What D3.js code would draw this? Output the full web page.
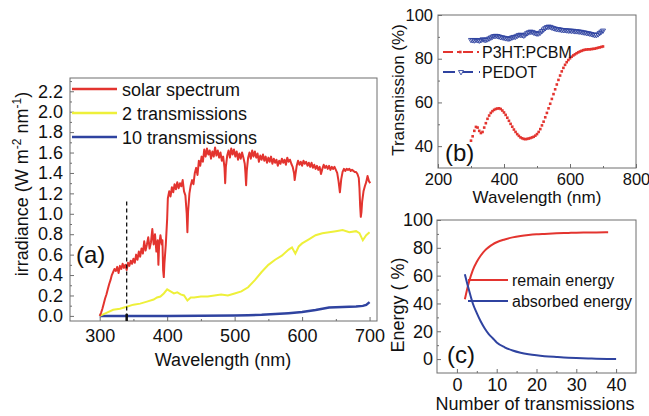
<!doctype html>
<html>
<head>
<meta charset="UTF-8">
<title>Solar spectrum transmissions</title>
<script src="https://d3js.org/d3.v7.min.js"></script>
<style>
  body { margin: 0; background: #fff; }
  text { font-family: "Liberation Sans", Arial, sans-serif; fill: #111; }
</style>
</head>
<body>
<script>
// ---- panel (a) data: irradiance vs wavelength ----
var solar = [[300,0.00],[302,0.03],[304,0.07],[306,0.12],[308,0.17],[310,0.21],[312,0.26],[314,0.31],[316,0.35],
  [318,0.40],[320,0.43],[322,0.46],[324,0.44],[326,0.48],[328,0.42],[330,0.49],[332,0.46],[334,0.51],[336,0.47],
  [338,0.50],[340,0.45],[342,0.52],[344,0.49],[346,0.54],[348,0.51],[350,0.56],[352,0.52],[354,0.60],[356,0.55],
  [358,0.63],[360,0.58],[362,0.66],[364,0.61],[366,0.73],[368,0.64],[370,0.70],[372,0.77],[374,0.66],[376,0.72],
  [378,0.85],[380,0.70],[382,0.80],[384,0.63],[386,0.74],[387,0.50],[388,0.68],[390,0.79],[392,0.70],[393,0.74],
  [394,0.45],[395,0.38],[396,0.52],[398,0.70],[400,0.95],[401,1.15],[403,1.22],[405,1.17],[407,1.26],[409,1.21],
  [411,1.29],[413,1.24],[415,1.31],[417,1.25],[419,1.30],[421,1.27],[423,1.33],[425,1.22],[427,1.18],[429,1.00],
  [430,0.82],[431,1.02],[433,1.20],[435,1.28],[437,1.33],[439,1.29],[441,1.40],[443,1.45],[445,1.38],[447,1.52],
  [449,1.47],[451,1.56],[453,1.51],[455,1.63],[457,1.56],[459,1.64],[461,1.58],[463,1.62],[465,1.54],[467,1.61],
  [469,1.56],[471,1.65],[473,1.57],[475,1.62],[477,1.55],[479,1.60],[481,1.52],[483,1.56],[485,1.45],[486,1.30],
  [487,1.46],[489,1.57],[491,1.62],[493,1.55],[495,1.64],[497,1.58],[499,1.63],[501,1.56],[503,1.61],[505,1.53],
  [507,1.59],[509,1.54],[511,1.60],[513,1.55],[515,1.49],[516,1.40],[517,1.28],[518,1.42],[520,1.55],[522,1.60],
  [524,1.54],[526,1.62],[528,1.56],[530,1.61],[532,1.55],[534,1.59],[536,1.51],[538,1.57],[540,1.53],[542,1.58],
  [544,1.52],[546,1.56],[548,1.50],[550,1.55],[552,1.51],[554,1.56],[556,1.49],[558,1.54],[560,1.50],[562,1.53],
  [564,1.47],[566,1.52],[568,1.49],[570,1.54],[572,1.50],[574,1.53],[576,1.48],[578,1.55],[580,1.51],[582,1.53],
  [584,1.49],[586,1.46],[588,1.40],[589,1.33],[590,1.38],[592,1.47],[594,1.52],[596,1.48],[598,1.51],[600,1.47],
  [602,1.52],[604,1.49],[606,1.51],[608,1.47],[610,1.50],[612,1.46],[614,1.50],[616,1.45],[618,1.48],[620,1.44],
  [622,1.47],[624,1.43],[626,1.46],[628,1.39],[630,1.44],[632,1.48],[634,1.45],[636,1.47],[638,1.44],[640,1.47],
  [642,1.43],[644,1.46],[646,1.44],[648,1.46],[650,1.43],[652,1.40],[654,1.32],[656,1.21],[658,1.34],[660,1.41],
  [662,1.44],[664,1.42],[666,1.44],[668,1.43],[670,1.44],[672,1.42],[674,1.43],[676,1.42],[678,1.41],[680,1.41],
  [682,1.39],[684,1.35],[685,1.25],[686,1.08],[687,0.97],[688,1.02],[689,1.12],[691,1.22],[693,1.27],[695,1.31],
  [697,1.37],[699,1.32],[701,1.30]];

var trans2 = [[300,0],[310,0.03],[320,0.06],[330,0.07],[340,0.09],[350,0.11],[360,0.12],[370,0.14],[380,0.16],
  [385,0.18],[390,0.19],[395,0.22],[400,0.26],[405,0.24],[410,0.22],[415,0.23],[420,0.21],[425,0.20],[430,0.15],
  [435,0.18],[440,0.18],[450,0.19],[460,0.19],[470,0.20],[480,0.21],[490,0.20],[500,0.22],[510,0.24],[520,0.28],
  [530,0.35],[540,0.43],[550,0.50],[560,0.55],[570,0.59],[580,0.65],[585,0.67],[590,0.61],[595,0.68],[600,0.71],
  [610,0.75],[620,0.79],[630,0.81],[640,0.82],[650,0.83],[660,0.84],[670,0.82],[680,0.83],[685,0.81],[690,0.74],
  [695,0.79],[700,0.82]];

var trans10 = [[300,0],[400,0],[500,0.004],[520,0.007],[540,0.011],[560,0.018],[580,0.027],[600,0.038],
  [620,0.058],[640,0.082],[660,0.088],[680,0.092],[690,0.098],[695,0.108],[700,0.135]];

var markNm = 340;

// ---- panel (b) data: transmission of films ----
var filmNm = d3.range(300, 701, 5);
var p3ht = [42.5,44.5,47,48.8,48.5,47,46,46.5,48.5,50.5,52.5,54,55.2,56,56.6,57,57.2,57.3,57,56.3,
  55.4,54.3,53,51.6,50.2,48.9,47.6,46.5,45.5,44.7,44,43.6,43.3,43.2,43.3,43.5,43.7,44,44.3,44.8,
  45.5,46.5,47.8,49.5,51.2,53.2,55.2,57.3,59.4,61.6,63.8,66,68.2,70.3,72.3,74.2,75.8,77.2,78.4,79.4,
  80.2,80.9,81.5,82,82.5,82.9,83.3,83.6,83.9,84.1,84.2,84.3,84.3,84.4,84.5,84.6,84.8,85,85.2,85.4,85.6];
var pedot = [88.6,88.5,88.4,88.6,88.5,88.3,88.5,88.9,88.7,88.6,88.9,89.3,89.7,90.1,90.4,90.5,90.4,90.2,89.9,89.8,
  89.6,89.4,89.3,89.2,89.4,89.8,90.0,90.1,90.5,90.9,91.0,90.8,90.6,91.1,91.7,92.1,92.4,92.3,92.0,91.7,
  91.5,91.6,92.0,92.7,93.4,94.0,94.5,94.7,94.6,94.3,94.0,93.8,93.6,93.5,93.4,93.2,93.1,93.1,93.0,92.9,
  92.9,92.8,92.8,92.6,92.6,92.5,92.4,92.3,92.1,92.0,91.8,91.7,91.5,91.3,91.1,90.9,90.9,91.2,91.8,92.4,92.9];

// ---- panel (c) data: energy vs number of transmissions ----
var nRemain = [2,3,4,5,6,7,8,9,10,12,14,16,18,20,22,25,28,30,33,35,38];
var remain = [43,55,64,70,74.5,78,80.5,82.5,84,86,87.5,88.5,89.2,89.7,90,90.4,90.7,90.9,91,91.1,91.2];
var nAbsorb = [2,3,4,5,6,7,8,9,10,12,14,16,18,20,22,25,28,30,33,35,38,40];
var absorbed = [61,50,40,33,27,22,18,15,12,8.5,6.2,4.6,3.5,2.7,2.1,1.5,1.0,0.8,0.5,0.3,0.1,0];

var RED = "#e3342f", YELLOW = "#eef03a", BLUE = "#2f43a0", FRAME = "#6e6e6e";

var svg = d3.select("body").append("svg").attr("width", 649).attr("height", 416);

function panel(box, xd, yd, xt, xm, yt, ym, xpad, ypad, yfmt, fs) {
  var x = d3.scaleLinear().domain(xd).range([box.l, box.r]);
  var y = d3.scaleLinear().domain(yd).range([box.b, box.t]);
  var g = svg.append("g");
  g.append("g").attr("transform", "translate(0," + box.b + ")")
    .call(d3.axisBottom(x).tickValues(xm).tickSize(-2).tickFormat(""));
  g.append("g").attr("transform", "translate(" + box.l + ",0)")
    .call(d3.axisLeft(y).tickValues(ym).tickSize(-2).tickFormat(""));
  g.append("g").attr("transform", "translate(0," + box.b + ")")
    .call(d3.axisBottom(x).tickValues(xt).tickSize(-4).tickPadding(xpad).tickFormat(d3.format("d")));
  g.append("g").attr("transform", "translate(" + box.l + ",0)")
    .call(d3.axisLeft(y).tickValues(yt).tickSize(-4).tickPadding(ypad).tickFormat(yfmt));
  g.selectAll(".domain").remove();
  g.selectAll(".tick line").attr("stroke", FRAME);
  g.selectAll(".tick text").attr("font-size", fs).style("font-family", "'Liberation Sans', Arial, sans-serif").attr("fill", "#111");
  g.append("rect").attr("x", box.l).attr("y", box.t).attr("width", box.r - box.l).attr("height", box.b - box.t)
    .attr("fill", "none").attr("stroke", FRAME).attr("stroke-width", 1);
  return {x: x, y: y, g: g};
}

// ---------- (a) ----------
var A = panel({l: 70, t: 78, r: 377, b: 321}, [256, 711], [-0.05, 2.33],
  [300, 400, 500, 600, 700], [350, 450, 550, 650],
  d3.range(0, 2.21, 0.2), d3.range(0.1, 2.31, 0.2), 8, 7, d3.format(".1f"), 18);

var lineA = d3.line().x(function(d){ return A.x(d[0]); }).y(function(d){ return A.y(d[1]); });
svg.append("path").datum(trans10).attr("d", lineA).attr("fill", "none").attr("stroke", BLUE).attr("stroke-width", 2.5);
svg.append("path").datum(trans2).attr("d", lineA).attr("fill", "none").attr("stroke", YELLOW).attr("stroke-width", 2);
svg.append("path").datum(solar).attr("d", lineA).attr("fill", "none").attr("stroke", RED).attr("stroke-width", 2)
  .attr("stroke-linejoin", "round");

svg.append("line").attr("x1", A.x(markNm)).attr("x2", A.x(markNm)).attr("y1", A.y(1.12)).attr("y2", A.y(-0.05))
  .attr("stroke", "#111").attr("stroke-width", 1.3).attr("stroke-dasharray", "4,3");
svg.append("line").attr("x1", A.x(markNm)).attr("x2", A.x(markNm)).attr("y1", A.y(0.02)).attr("y2", A.y(-0.05))
  .attr("stroke", "#111").attr("stroke-width", 2.5);

var legA = [["solar spectrum", RED], ["2 transmissions", YELLOW], ["10 transmissions", BLUE]];
legA.forEach(function(d, i) {
  var yy = 89 + i * 24;
  svg.append("line").attr("x1", 72).attr("x2", 117).attr("y1", yy).attr("y2", yy)
    .attr("stroke", d[1]).attr("stroke-width", 2.5);
  svg.append("text").attr("x", 122).attr("y", yy + 6.5).attr("font-size", 18).text(d[0]);
});
svg.append("text").attr("x", 76).attr("y", 263).attr("font-size", 24).text("(a)");

svg.append("text").attr("x", 223).attr("y", 366).attr("text-anchor", "middle").attr("font-size", 18).text("Wavelength (nm)");
var ylA = svg.append("text").attr("transform", "translate(28,184) rotate(-90)").attr("text-anchor", "middle").attr("font-size", 18);
ylA.append("tspan").text("irradiance (W m");
ylA.append("tspan").attr("dy", -7).attr("font-size", 12).text("-2");
ylA.append("tspan").attr("dy", 7).text(" nm");
ylA.append("tspan").attr("dy", -7).attr("font-size", 12).text("-1");
ylA.append("tspan").attr("dy", 7).text(")");

// ---------- (b) ----------
var B = panel({l: 438, t: 15, r: 636, b: 168}, [200, 800], [30, 100],
  [200, 400, 600, 800], [300, 500, 700], [40, 60, 80, 100], [50, 70, 90], 5, 5, d3.format("d"), 16.5);

var tri = d3.symbol().type(d3.symbolTriangle).size(11);
svg.append("g").selectAll("path").data(pedot).enter().append("path")
  .attr("d", tri)
  .attr("transform", function(d, i){ return "translate(" + B.x(filmNm[i]) + "," + B.y(d) + ") rotate(180)"; })
  .attr("fill", "none").attr("stroke", BLUE).attr("stroke-width", 0.9);
svg.append("g").selectAll("rect").data(p3ht).enter().append("rect")
  .attr("x", function(d, i){ return B.x(filmNm[i]) - 1.3; })
  .attr("y", function(d){ return B.y(d) - 1.3; })
  .attr("width", 2.6).attr("height", 2.6).attr("fill", RED);

// legend (b)
svg.append("line").attr("x1", 443).attr("x2", 480).attr("y1", 52).attr("y2", 52)
  .attr("stroke", RED).attr("stroke-width", 1.8).attr("stroke-dasharray", "10,4,2,4");
svg.append("rect").attr("x", 459).attr("y", 50.7).attr("width", 2.6).attr("height", 2.6).attr("fill", RED);
svg.append("line").attr("x1", 443).attr("x2", 480).attr("y1", 72).attr("y2", 72)
  .attr("stroke", BLUE).attr("stroke-width", 1.8).attr("stroke-dasharray", "12,6");
svg.append("path").attr("d", tri).attr("transform", "translate(461,72) rotate(180)")
  .attr("fill", "#fff").attr("stroke", BLUE).attr("stroke-width", 0.9);
svg.append("text").attr("x", 482).attr("y", 58).attr("font-size", 16).text("P3HT:PCBM");
svg.append("text").attr("x", 482).attr("y", 78).attr("font-size", 16).text("PEDOT");
svg.append("text").attr("x", 445).attr("y", 161).attr("font-size", 24).text("(b)");

svg.append("text").attr("x", 537).attr("y", 203).attr("text-anchor", "middle").attr("font-size", 17).text("Wavelength (nm)");
svg.append("text").attr("transform", "translate(404,90) rotate(-90)").attr("text-anchor", "middle")
  .attr("font-size", 17).text("Transmission (%)");

// ---------- (c) ----------
var C = panel({l: 437, t: 220, r: 636, b: 373}, [-5, 45], [-10, 100],
  [0, 10, 20, 30, 40], [5, 15, 25, 35], [0, 20, 40, 60, 80, 100], [10, 30, 50, 70, 90], 5, 4, d3.format("d"), 18);

var lineC = d3.line().curve(d3.curveMonotoneX);
svg.append("path").attr("d", lineC(nRemain.map(function(n, i){ return [C.x(n), C.y(remain[i])]; })))
  .attr("fill", "none").attr("stroke", RED).attr("stroke-width", 2);
svg.append("path").attr("d", lineC(nAbsorb.map(function(n, i){ return [C.x(n), C.y(absorbed[i])]; })))
  .attr("fill", "none").attr("stroke", BLUE).attr("stroke-width", 2);

var legC = [["remain energy", RED, 280], ["absorbed energy", BLUE, 301]];
legC.forEach(function(d) {
  svg.append("line").attr("x1", 468).attr("x2", 508).attr("y1", d[2]).attr("y2", d[2])
    .attr("stroke", d[1]).attr("stroke-width", 2);
  svg.append("text").attr("x", 512).attr("y", d[2] + 5.5).attr("font-size", 16).text(d[0]);
});
svg.append("text").attr("x", 447).attr("y", 363).attr("font-size", 24).text("(c)");

svg.append("text").attr("x", 535).attr("y", 410).attr("text-anchor", "middle").attr("font-size", 18).text("Number of transmissions");
svg.append("text").attr("transform", "translate(404,305) rotate(-90)").attr("text-anchor", "middle")
  .attr("font-size", 18).text("Energy ( %)");
</script>
</body>
</html>
